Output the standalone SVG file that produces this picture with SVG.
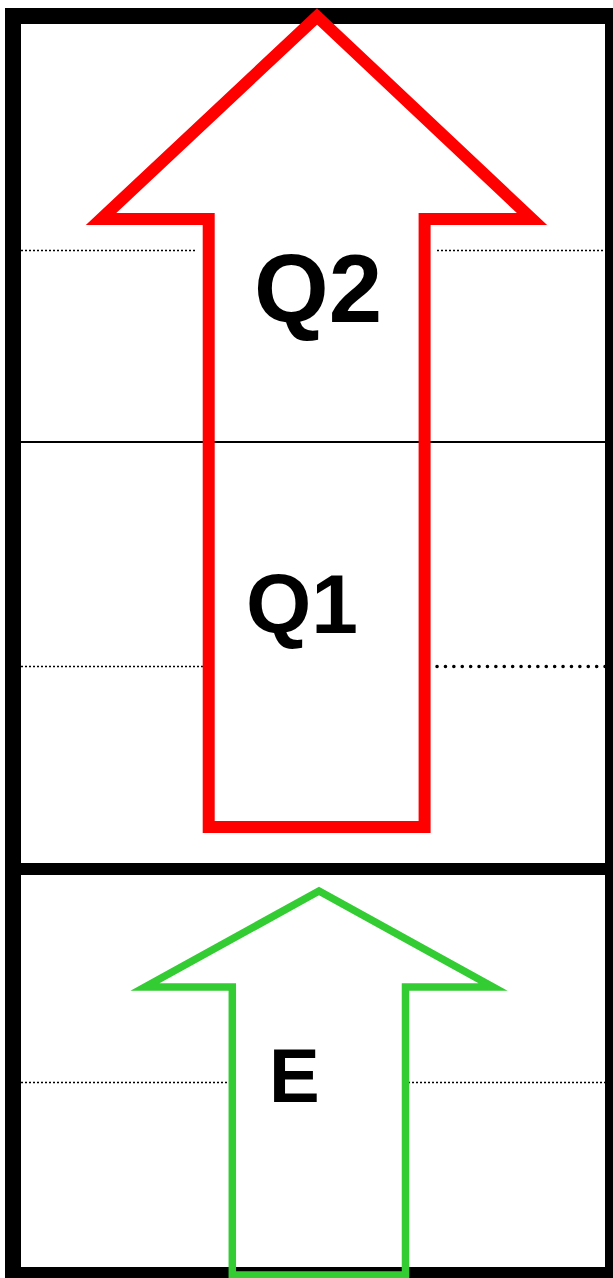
<svg xmlns="http://www.w3.org/2000/svg" width="613" height="1278" viewBox="0 0 613 1278">
<style>
.frame{fill:none;stroke:#000;stroke-width:16}
.divider{stroke:#000;stroke-width:12}
.solid{stroke:#000;stroke-width:2}
.dot{stroke:#000;stroke-width:1.5;stroke-dasharray:2 2}
.bigdot{stroke:#000;stroke-width:3.5;stroke-linecap:round;stroke-dasharray:0.1 8.3}
.red{fill:none;stroke:#ff0000;stroke-width:12;stroke-miterlimit:10}
.green{fill:none;stroke:#33cc33;stroke-width:7.5;stroke-miterlimit:10}
.lbl{font-family:"Liberation Sans",Arial,sans-serif;font-weight:bold;fill:#000}
</style>
<rect width="613" height="1278" fill="#fff"/>
<g id="frame">
<rect class="frame" x="13" y="16" width="600" height="1259"/>
<line class="divider" x1="13" y1="869" x2="613" y2="869"/>
</g>
<g id="connectors">
<line class="solid" x1="21" y1="442" x2="605" y2="442"/>
<line class="dot" x1="21" y1="250.5" x2="195" y2="250.5"/>
<line class="dot" x1="437" y1="250.5" x2="605" y2="250.5"/>
<line class="dot" x1="21" y1="666.5" x2="211" y2="666.5"/>
<line class="bigdot" x1="437" y1="666.5" x2="606" y2="666.5"/>
<line class="dot" x1="21" y1="1082.5" x2="229" y2="1082.5"/>
<line class="dot" x1="408" y1="1082.5" x2="605" y2="1082.5"/>
</g>
<g id="arrow-q">
<polygon class="red" points="317,16.5 532,219 424.6,219 424.6,827 208.7,827 208.7,219 101,219"/>
</g>
<g id="arrow-e">
<polygon class="green" points="319,891 493,987 405.5,987 405.5,1275 232.3,1275 232.3,987 145,987"/>
</g>
<g id="label-q2"><text class="lbl" x="254" y="322" font-size="96">Q2</text></g>
<g id="label-q1"><text class="lbl" x="246" y="633" font-size="84">Q1</text></g>
<g id="label-e"><text class="lbl" x="269" y="1101.7" font-size="76">E</text></g>
</svg>
